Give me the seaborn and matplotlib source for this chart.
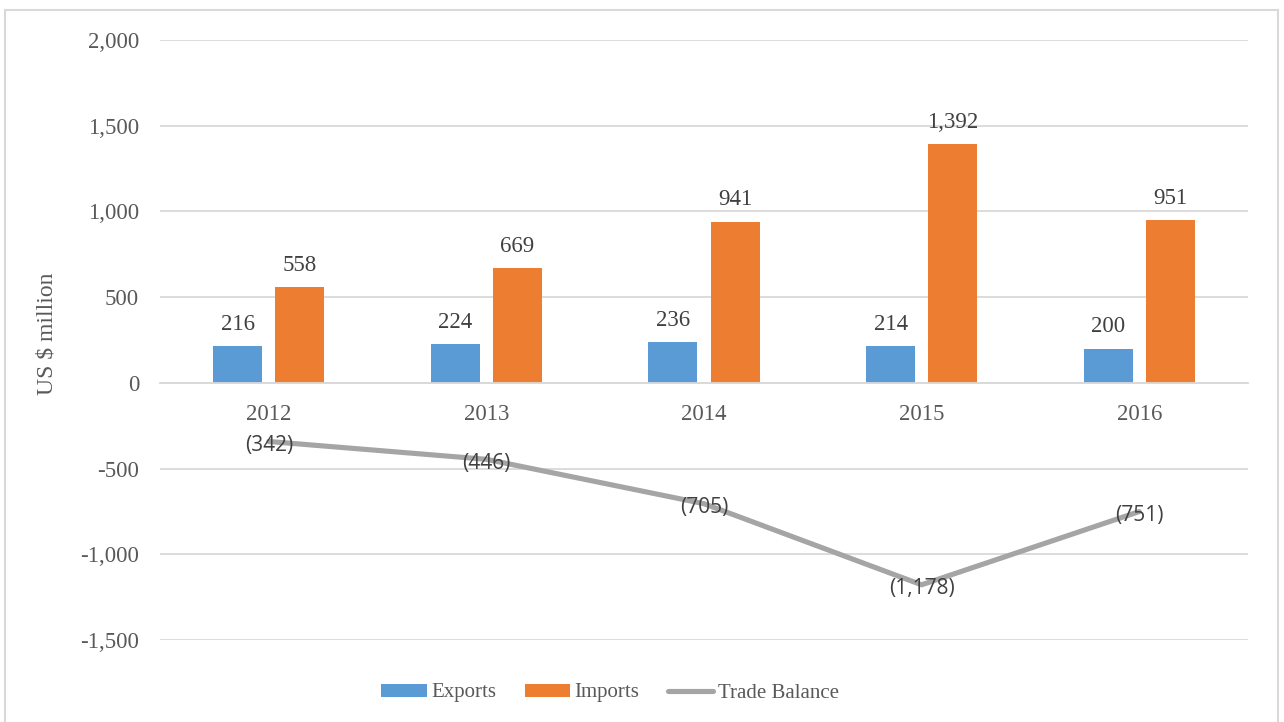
import matplotlib
matplotlib.use("Agg")
import matplotlib.pyplot as plt
from matplotlib.patches import Rectangle
import seaborn as sns
import pandas as pd

years = ["2012", "2013", "2014", "2015", "2016"]
exports = [216, 224, 236, 214, 200]
imports = [558, 669, 941, 1392, 951]
trade_balance = [-342, -446, -705, -1178, -751]
y_ticks = [-1500, -1000, -500, 0, 500, 1000, 1500, 2000]

sns.set_theme(style="white")
plt.rcParams['font.family'] = ['Liberation Serif', 'DejaVu Serif']

TXT = "#595959"
GRID = "#D9D9D9"
C_EXP = "#5B9BD5"
C_IMP = "#ED7D31"
C_TB = "#A5A5A5"

bars = pd.DataFrame({
    "Year": years * 2,
    "Value": exports + imports,
    "Series": ["Exports"] * len(years) + ["Imports"] * len(years),
})

fig = plt.figure(figsize=(12.84, 7.22), dpi=100)
ax = fig.add_axes([160 / 1284, 1 - 640 / 722, 1088 / 1284, 600 / 722])

sns.barplot(data=bars, x="Year", y="Value", hue="Series",
            palette={"Exports": C_EXP, "Imports": C_IMP},
            width=0.57, gap=0.21, ax=ax, saturation=1, legend=True,
            linewidth=0)

xpos = list(range(len(years)))
sns.lineplot(x=xpos, y=trade_balance, color=C_TB, linewidth=3.7, ax=ax,
             label="Trade Balance", zorder=3)

for cont in ax.containers:
    ax.bar_label(cont, fmt="{:,.0f}", padding=8, fontsize=16.5, color="#404040",
                 family=['Liberation Serif'])

for x, v in zip(xpos, trade_balance):
    ax.annotate(f"({abs(v):,})", (x, v), xytext=(0, -3), textcoords="offset points",
                ha="center", va="center", fontsize=15,
                color="#404040", family=['Open Sans', 'DejaVu Sans'], zorder=5)

ax.set_xlim(-0.5, len(years) - 0.5)
ax.set_ylim(-1500, 2000)
ax.set_yticks(y_ticks)
ax.set_yticklabels([f"{t:,}" for t in y_ticks])
ax.grid(axis="y", color=GRID, linewidth=1.3)
ax.set_axisbelow(True)
for s in ["top", "right", "left"]:
    ax.spines[s].set_visible(False)
ax.spines["bottom"].set_position(("data", 0))
ax.spines["bottom"].set_color(GRID)
ax.spines["bottom"].set_linewidth(1.3)
ax.tick_params(axis="x", length=0, pad=15, labelsize=16.5, labelcolor=TXT)
ax.tick_params(axis="y", length=0, pad=15, labelsize=16.5, labelcolor=TXT)
ax.set_xlabel("")
ax.set_ylabel("US $ million", fontsize=17, color=TXT)
ax.yaxis.set_label_coords(-0.094, 0.51)

handles, labels = ax.get_legend_handles_labels()
ax.get_legend().remove()
fig.legend(handles, labels, loc="center", bbox_to_anchor=(610 / 1284, 1 - 693 / 722),
           ncol=3, frameon=False, fontsize=15, labelcolor=TXT,
           handlelength=2.2, handleheight=0.6, handletextpad=0.2,
           columnspacing=1.35)

fig.add_artist(Rectangle((5 / 1284, -0.02), 1273 / 1284, 1 - 10 / 722 + 0.02,
                         transform=fig.transFigure, fill=False,
                         edgecolor=GRID, linewidth=1.5))

fig.savefig("out.png", dpi=100)
